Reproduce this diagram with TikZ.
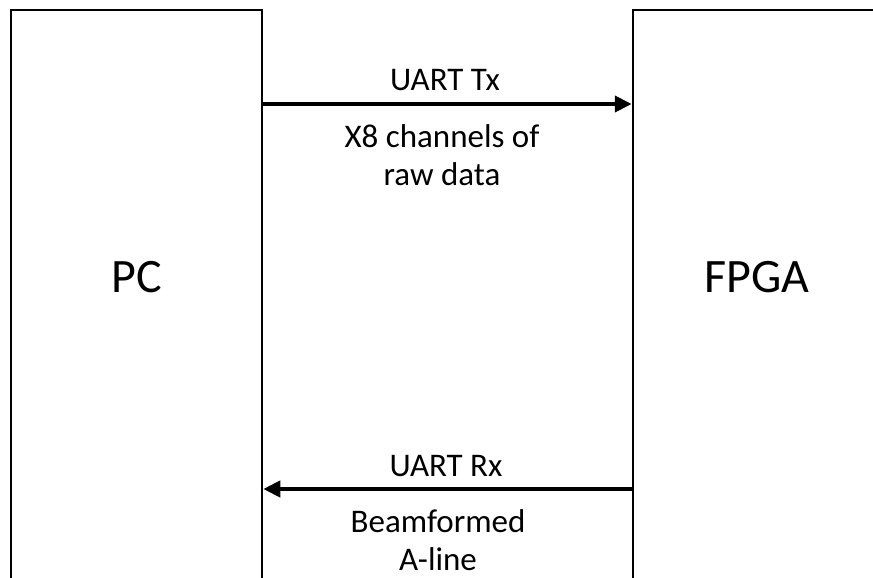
\documentclass[tikz,border=0pt]{standalone}
\usepackage{fontspec}
\setmainfont{Carlito}
\usetikzlibrary{arrows.meta}
\begin{document}
\begin{tikzpicture}[x=1pt,y=-1pt,
  blockbox/.style={draw=black, line width=2.5pt, fill=white, minimum width=251pt, minimum height=620pt, inner sep=0pt},
  bigtxt/.style={font=\fontsize{48}{58}\selectfont, anchor=base, inner sep=0pt},
  smalltxt/.style={font=\fontsize{33}{38}\selectfont, anchor=base, inner sep=0pt, align=center},
  arr/.style={line width=4pt, -{Triangle[length=17pt,width=16pt]}}]
\useasboundingbox (0,0) rectangle (873,578);
\clip (0,0) rectangle (873,578);
\fill[white] (0,0) rectangle (873,578);
\node[blockbox] (pc) at (136.5,320) {};
\node[blockbox] (fpga) at (758.5,320) {};
\node[bigtxt] (pct) at (137,292) {PC};
\node[bigtxt] (fpgat) at (757,292) {FPGA};
\coordinate (ytop) at (0,104);
\coordinate (ybot) at (0,489);
\draw[arr] (pc.east |- ytop) -- (fpga.west |- ytop);
\draw[arr] (fpga.west |- ybot) -- (pc.east |- ybot);
\node[smalltxt] (tx) at (445,90) {UART Tx};
\node[smalltxt] (txd) at (442,185) {X8 channels of\\raw data};
\node[smalltxt] (rx) at (446,476) {UART Rx};
\node[smalltxt] (rxd) at (438,570) {Beamformed\\A-line};
\end{tikzpicture}
\end{document}
